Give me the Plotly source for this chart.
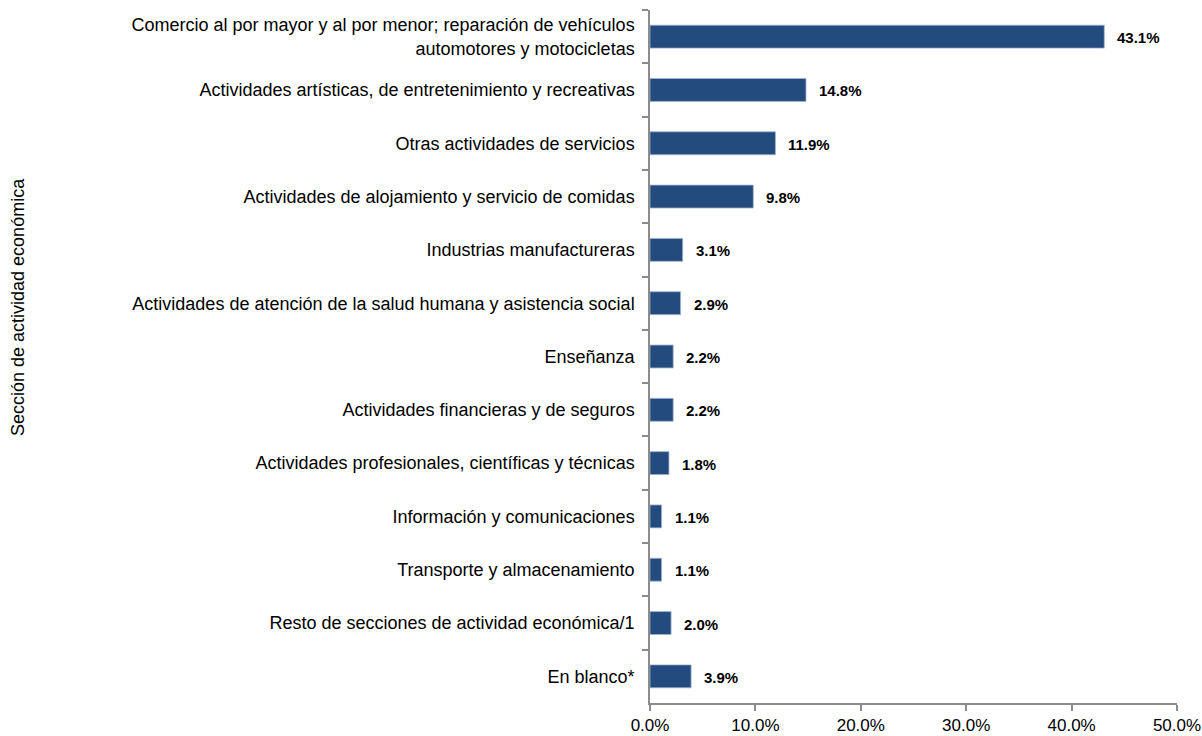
import plotly.graph_objects as go

categories = [
    "Comercio al por mayor y al por menor; reparación de vehículos<br>automotores y motocicletas",
    "Actividades artísticas, de entretenimiento y recreativas",
    "Otras actividades de servicios",
    "Actividades de alojamiento y servicio de comidas",
    "Industrias manufactureras",
    "Actividades de atención de la salud humana y asistencia social",
    "Enseñanza",
    "Actividades financieras y de seguros",
    "Actividades profesionales, científicas y técnicas",
    "Información y comunicaciones",
    "Transporte y almacenamiento",
    "Resto de secciones de actividad económica/1",
    "En blanco*",
]
values = [43.1, 14.8, 11.9, 9.8, 3.1, 2.9, 2.2, 2.2, 1.8, 1.1, 1.1, 2.0, 3.9]
x_ticks = [0, 10, 20, 30, 40, 50]
x_tick_labels = ["0.0%", "10.0%", "20.0%", "30.0%", "40.0%", "50.0%"]

L, R, T, B = 650, 25, 10, 33
W, H = 1202, 736
pw = W - L - R
ph = H - T - B

fig = go.Figure()
fig.add_trace(go.Bar(
    y=categories, x=values, orientation="h",
    marker=dict(color="#244B7D", line=dict(color="#9FB4D0", width=0.8)),
    width=0.43,
    hoverinfo="skip",
))
for c, v in zip(categories, values):
    fig.add_annotation(x=v, y=c, text=f"<b>{v:.1f}%</b>", showarrow=False,
                       xanchor="left", xshift=11, yshift=-1,
                       font=dict(family="Liberation Sans Narrow, Arial", size=15, color="#000000"))

fig.update_layout(
    width=W, height=H,
    margin=dict(l=L, r=R, t=T, b=B, autoexpand=False),
    plot_bgcolor="white", paper_bgcolor="white",
    showlegend=False,
    font=dict(family="Liberation Sans, Arial", size=17, color="#000000"),
)
fig.update_xaxes(
    range=[0, 50], tickvals=x_ticks, ticktext=x_tick_labels,
    showgrid=False, zeroline=False, showline=True, linecolor="#8C8C8C", linewidth=1.5,
    ticks="outside", ticklen=6, tickcolor="#8C8C8C", tickwidth=1.5,
    tickfont=dict(size=17, family="Liberation Sans Narrow, Arial"),
)
fig.update_yaxes(
    autorange="reversed", showgrid=False, showline=True, linecolor="#8C8C8C", linewidth=1.5,
    ticks="outside", ticklen=6, tickcolor="#8C8C8C", tickwidth=1.5, tickson="boundaries",
    ticklabelstandoff=10,
    tickfont=dict(size=18, family="Liberation Sans Narrow, Arial"),
)
fig.add_annotation(
    text="Sección de actividad económica", x=(18 - L) / pw, y=1 - (307 - T) / ph,
    xref="paper", yref="paper", xanchor="center", yanchor="middle",
    showarrow=False, textangle=-90, font=dict(size=18, family="Liberation Sans, Arial"),
)
fig.write_html(
    "out.html",
    config={"displayModeBar": False},
    post_script="document.body.style.margin='0';document.body.style.overflow='hidden';",
)
